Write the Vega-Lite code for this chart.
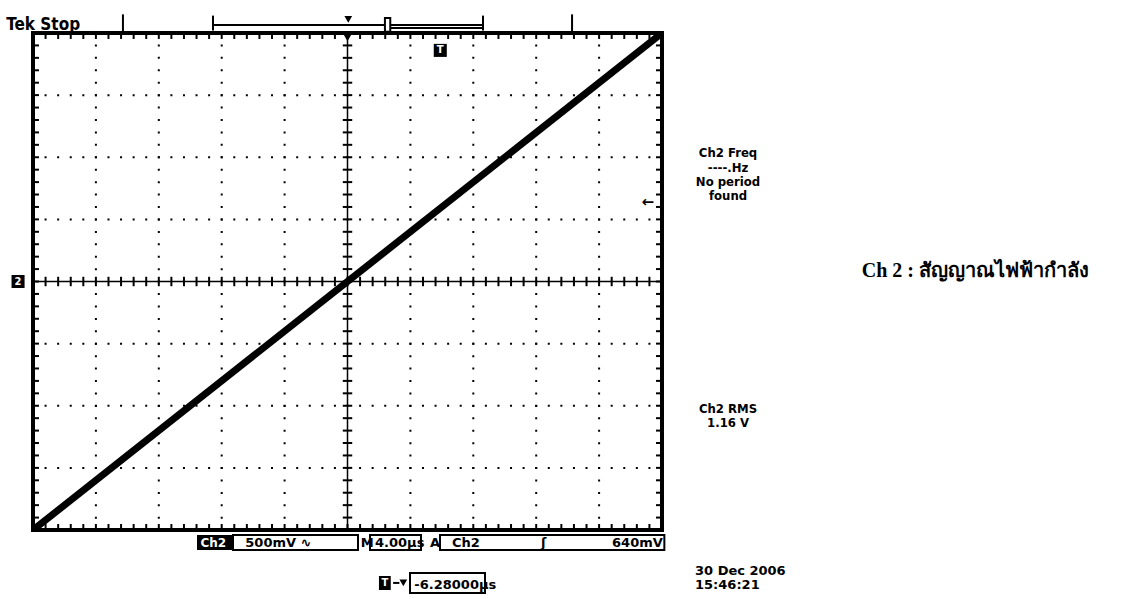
{
  "$schema": "https://vega.github.io/schema/vega-lite/v6.json",
  "autosize": "none",
  "width": 629,
  "height": 497,
  "padding": {"left": 33, "top": 33, "right": 474, "bottom": 69},
  "background": "white",
  "config": {"view": {"stroke": "black", "strokeWidth": 4}},
  "datasets": {
    "trace": [{"t": -20, "v": -2}, {"t": 0, "v": 0}, {"t": 20, "v": 2}],
    "vgrid": [{"t": -16}, {"t": -12}, {"t": -8}, {"t": -4}, {"t": 4}, {"t": 8}, {"t": 12}, {"t": 16}],
    "hgrid": [{"v": -1.5}, {"v": -1}, {"v": -0.5}, {"v": 0.5}, {"v": 1}, {"v": 1.5}],
    "tminor": [{"t": -20}, {"t": -19.2}, {"t": -18.4}, {"t": -17.6}, {"t": -16.8}, {"t": -16}, {"t": -15.2}, {"t": -14.4}, {"t": -13.6}, {"t": -12.8}, {"t": -12}, {"t": -11.2}, {"t": -10.4}, {"t": -9.6}, {"t": -8.8}, {"t": -8}, {"t": -7.2}, {"t": -6.4}, {"t": -5.6}, {"t": -4.8}, {"t": -4}, {"t": -3.2}, {"t": -2.4}, {"t": -1.6}, {"t": -0.8}, {"t": 0}, {"t": 0.8}, {"t": 1.6}, {"t": 2.4}, {"t": 3.2}, {"t": 4}, {"t": 4.8}, {"t": 5.6}, {"t": 6.4}, {"t": 7.2}, {"t": 8}, {"t": 8.8}, {"t": 9.6}, {"t": 10.4}, {"t": 11.2}, {"t": 12}, {"t": 12.8}, {"t": 13.6}, {"t": 14.4}, {"t": 15.2}, {"t": 16}, {"t": 16.8}, {"t": 17.6}, {"t": 18.4}, {"t": 19.2}, {"t": 20}],
    "vminor": [{"v": -2}, {"v": -1.9}, {"v": -1.8}, {"v": -1.7}, {"v": -1.6}, {"v": -1.5}, {"v": -1.4}, {"v": -1.3}, {"v": -1.2}, {"v": -1.1}, {"v": -1}, {"v": -0.9}, {"v": -0.8}, {"v": -0.7}, {"v": -0.6}, {"v": -0.5}, {"v": -0.4}, {"v": -0.3}, {"v": -0.2}, {"v": -0.1}, {"v": 0}, {"v": 0.1}, {"v": 0.2}, {"v": 0.3}, {"v": 0.4}, {"v": 0.5}, {"v": 0.6}, {"v": 0.7}, {"v": 0.8}, {"v": 0.9}, {"v": 1}, {"v": 1.1}, {"v": 1.2}, {"v": 1.3}, {"v": 1.4}, {"v": 1.5}, {"v": 1.6}, {"v": 1.7}, {"v": 1.8}, {"v": 1.9}, {"v": 2}],
    "barv": [{"t": -14.28, "v": 2.008, "v2": 2.15}, {"t": 14.28, "v": 2.008, "v2": 2.15}, {"t": -8.553, "v": 2.02, "v2": 2.14}, {"t": 8.617, "v": 2.02, "v2": 2.14}],
    "barh": [{"t": -8.553, "t2": 8.617, "v": 2.064}, {"t": 2.6, "t2": 8.617, "v": 2.04}],
    "notesRight": [
      {"label": "Ch2 Freq", "t": 24.2, "v": 1.0},
      {"label": "----.Hz", "t": 24.2, "v": 0.885},
      {"label": "No period", "t": 24.2, "v": 0.77},
      {"label": "found", "t": 24.2, "v": 0.655},
      {"label": "Ch2 RMS", "t": 24.2, "v": -1.058},
      {"label": "1.16 V", "t": 24.2, "v": -1.175}
    ],
    "notesLeft": [
      {"label": "500mV ∿", "t": -6.5, "v": -2.137},
      {"label": "M", "t": 0.85, "v": -2.137},
      {"label": "4.00µs", "t": 1.75, "v": -2.137},
      {"label": "A", "t": 5.25, "v": -2.137},
      {"label": "Ch2", "t": 6.65, "v": -2.137},
      {"label": "ʃ", "t": 12.3, "v": -2.137},
      {"label": "30 Dec  2006", "t": 22.1, "v": -2.362},
      {"label": "15:46:21", "t": 22.1, "v": -2.475},
      {"label": "-6.28000µs", "t": 4.25, "v": -2.475}
    ],
    "boxesBlack": [
      {"t": -9.571, "t2": -7.282, "v": -2.04, "v2": -2.161},
      {"t": 2.0, "t2": 2.75, "v": -2.37, "v2": -2.483}
    ],
    "boxesOpen": [
      {"t": -7.282, "t2": 0.668, "v": -2.04, "v2": -2.161},
      {"t": 1.431, "t2": 4.674, "v": -2.04, "v2": -2.161},
      {"t": 5.882, "t2": 20.15, "v": -2.04, "v2": -2.161},
      {"t": 3.975, "t2": 8.744, "v": -2.346, "v2": -2.507},
      {"t": 2.38, "t2": 2.72, "v": 2.01, "v2": 2.12}
    ]
  },
  "layer": [
    {"data": {"name": "vgrid"}, "mark": {"type": "rule", "color": "black", "strokeWidth": 2, "strokeDash": [2, 10.43], "strokeDashOffset": 1},
     "encoding": {"x": {"field": "t", "type": "quantitative", "scale": {"domain": [-20, 20], "nice": false, "zero": false}, "axis": null}}},
    {"data": {"name": "hgrid"}, "mark": {"type": "rule", "color": "black", "strokeWidth": 2, "strokeDash": [2, 10.58], "strokeDashOffset": 1},
     "encoding": {"y": {"field": "v", "type": "quantitative", "scale": {"domain": [-2, 2], "nice": false, "zero": false}, "axis": null}}},
    {"data": {"values": [{"t": 0}]}, "mark": {"type": "rule", "color": "black", "strokeWidth": 1.5},
     "encoding": {"x": {"field": "t", "type": "quantitative", "axis": null}}},
    {"data": {"values": [{"v": 0}]}, "mark": {"type": "rule", "color": "black", "strokeWidth": 1.5},
     "encoding": {"y": {"field": "v", "type": "quantitative", "axis": null}}},
    {"data": {"name": "vminor"}, "mark": {"type": "rule", "color": "black", "strokeWidth": 2},
     "encoding": {"y": {"field": "v", "type": "quantitative", "axis": null}, "x": {"datum": -0.3, "type": "quantitative", "axis": null}, "x2": {"datum": 0.3}}},
    {"data": {"name": "tminor"}, "mark": {"type": "rule", "color": "black", "strokeWidth": 2},
     "encoding": {"x": {"field": "t", "type": "quantitative", "axis": null}, "y": {"datum": -0.038, "type": "quantitative", "axis": null}, "y2": {"datum": 0.038}}},
    {"data": {"name": "vminor"}, "mark": {"type": "rule", "color": "black", "strokeWidth": 2},
     "encoding": {"y": {"field": "v", "type": "quantitative", "axis": null}, "x": {"datum": -20, "type": "quantitative", "axis": null}, "x2": {"datum": -19.62}}},
    {"data": {"name": "vminor"}, "mark": {"type": "rule", "color": "black", "strokeWidth": 2},
     "encoding": {"y": {"field": "v", "type": "quantitative", "axis": null}, "x": {"datum": 19.62, "type": "quantitative", "axis": null}, "x2": {"datum": 20}}},
    {"data": {"name": "tminor"}, "mark": {"type": "rule", "color": "black", "strokeWidth": 2},
     "encoding": {"x": {"field": "t", "type": "quantitative", "axis": null}, "y": {"datum": 2, "type": "quantitative", "axis": null}, "y2": {"datum": 1.952}}},
    {"data": {"name": "tminor"}, "mark": {"type": "rule", "color": "black", "strokeWidth": 2},
     "encoding": {"x": {"field": "t", "type": "quantitative", "axis": null}, "y": {"datum": -2, "type": "quantitative", "axis": null}, "y2": {"datum": -1.952}}},
    {"data": {"name": "trace"}, "mark": {"type": "line", "color": "black", "strokeWidth": 7, "clip": true},
     "encoding": {"x": {"field": "t", "type": "quantitative", "axis": null}, "y": {"field": "v", "type": "quantitative", "axis": null}}},
    {"data": {"name": "barv"}, "mark": {"type": "rule", "color": "black", "strokeWidth": 2},
     "encoding": {"x": {"field": "t", "type": "quantitative", "axis": null}, "y": {"field": "v", "type": "quantitative", "axis": null}, "y2": {"field": "v2"}}},
    {"data": {"name": "barh"}, "mark": {"type": "rule", "color": "black", "strokeWidth": 2},
     "encoding": {"x": {"field": "t", "type": "quantitative", "axis": null}, "x2": {"field": "t2"}, "y": {"field": "v", "type": "quantitative", "axis": null}}},
    {"data": {"name": "boxesBlack"}, "mark": {"type": "rect", "color": "black"},
     "encoding": {"x": {"field": "t", "type": "quantitative", "axis": null}, "x2": {"field": "t2"}, "y": {"field": "v", "type": "quantitative", "axis": null}, "y2": {"field": "v2"}}},
    {"data": {"name": "boxesOpen"}, "mark": {"type": "rect", "fill": "white", "stroke": "black", "strokeWidth": 2},
     "encoding": {"x": {"field": "t", "type": "quantitative", "axis": null}, "x2": {"field": "t2"}, "y": {"field": "v", "type": "quantitative", "axis": null}, "y2": {"field": "v2"}}},
    {"data": {"values": [{"t": 0, "v": 1.96}, {"t": 0.05, "v": 2.11}, {"t": 3.55, "v": -2.426}]}, "mark": {"type": "point", "shape": "triangle-down", "filled": true, "color": "black", "size": 60, "opacity": 1},
     "encoding": {"x": {"field": "t", "type": "quantitative", "axis": null}, "y": {"field": "v", "type": "quantitative", "axis": null}}},
    {"data": {"values": [{"t": 2.9, "t2": 3.3, "v": -2.426}]}, "mark": {"type": "rule", "color": "black", "strokeWidth": 2},
     "encoding": {"x": {"field": "t", "type": "quantitative", "axis": null}, "x2": {"field": "t2"}, "y": {"field": "v", "type": "quantitative", "axis": null}}},
    {"data": {"values": [{"t": 5.9, "v": 1.86}, {"t": -20.95, "v": 0}]}, "mark": {"type": "square", "color": "black", "size": 170, "opacity": 1},
     "encoding": {"x": {"field": "t", "type": "quantitative", "axis": null}, "y": {"field": "v", "type": "quantitative", "axis": null}}},
    {"data": {"values": [{"label": "T", "t": 5.9, "v": 1.86}, {"label": "2", "t": -20.95, "v": 0}, {"label": "T", "t": 2.375, "v": -2.426}]}, "mark": {"type": "text", "color": "white", "font": "DejaVu Sans", "fontWeight": "bold", "fontSize": 10, "baseline": "middle", "align": "center"},
     "encoding": {"x": {"field": "t", "type": "quantitative", "axis": null}, "y": {"field": "v", "type": "quantitative", "axis": null}, "text": {"field": "label"}}},
    {"data": {"values": [{"label": "←", "t": 19.1, "v": 0.64}]}, "mark": {"type": "text", "color": "black", "font": "DejaVu Sans", "fontWeight": "bold", "fontSize": 15, "baseline": "middle", "align": "center"},
     "encoding": {"x": {"field": "t", "type": "quantitative", "axis": null}, "y": {"field": "v", "type": "quantitative", "axis": null}, "text": {"field": "label"}}},
    {"data": {"values": [{"label": "Tek Stop", "t": -21.7, "v": 2.024}]}, "mark": {"type": "text", "color": "black", "font": "DejaVu Sans Condensed", "fontWeight": "bold", "fontSize": 17, "baseline": "alphabetic", "align": "left"},
     "encoding": {"x": {"field": "t", "type": "quantitative", "axis": null}, "y": {"field": "v", "type": "quantitative", "axis": null}, "text": {"field": "label"}}},
    {"data": {"name": "notesRight"}, "mark": {"type": "text", "color": "black", "font": "DejaVu Sans Condensed", "fontWeight": "bold", "fontSize": 13, "baseline": "alphabetic", "align": "center"},
     "encoding": {"x": {"field": "t", "type": "quantitative", "axis": null}, "y": {"field": "v", "type": "quantitative", "axis": null}, "text": {"field": "label"}}},
    {"data": {"name": "notesLeft"}, "mark": {"type": "text", "color": "black", "font": "DejaVu Sans", "fontWeight": "bold", "fontSize": 13, "baseline": "alphabetic", "align": "left"},
     "encoding": {"x": {"field": "t", "type": "quantitative", "axis": null}, "y": {"field": "v", "type": "quantitative", "axis": null}, "text": {"field": "label"}}},
    {"data": {"values": [{"label": "640mV", "t": 20.05, "v": -2.137}]}, "mark": {"type": "text", "color": "black", "font": "DejaVu Sans", "fontWeight": "bold", "fontSize": 13, "baseline": "alphabetic", "align": "right"},
     "encoding": {"x": {"field": "t", "type": "quantitative", "axis": null}, "y": {"field": "v", "type": "quantitative", "axis": null}, "text": {"field": "label"}}},
    {"data": {"values": [{"label": "Ch2", "t": -9.35, "v": -2.137}]}, "mark": {"type": "text", "color": "white", "font": "DejaVu Sans", "fontWeight": "bold", "fontSize": 12, "baseline": "alphabetic", "align": "left"},
     "encoding": {"x": {"field": "t", "type": "quantitative", "axis": null}, "y": {"field": "v", "type": "quantitative", "axis": null}, "text": {"field": "label"}}},
    {"data": {"values": [{"label": "Ch 2 : สัญญาณไฟฟ้ากำลัง", "t": 32.7, "v": 0.036}]}, "mark": {"type": "text", "color": "black", "font": "Liberation Serif", "fontWeight": "bold", "fontSize": 20, "baseline": "alphabetic", "align": "left"},
     "encoding": {"x": {"field": "t", "type": "quantitative", "axis": null}, "y": {"field": "v", "type": "quantitative", "axis": null}, "text": {"field": "label"}}}
  ]
}
